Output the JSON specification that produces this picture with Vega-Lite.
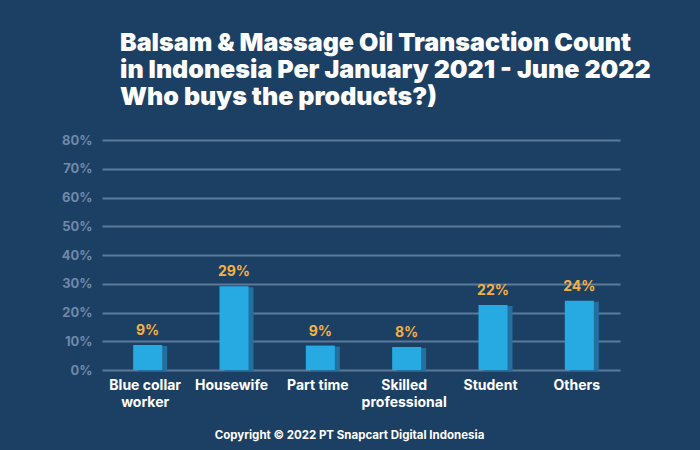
{
  "$schema": "https://vega.github.io/schema/vega-lite/v6.json",
  "width": 518,
  "height": 230,
  "autosize": {"type": "none"},
  "padding": {"left": 102, "top": 140, "right": 80, "bottom": 80},
  "background": "#1c4064",
  "config": {"view": {"stroke": null}, "font": "Inter"},
  "title": {
    "text": ["Balsam & Massage Oil Transaction Count", "in Indonesia Per January 2021 - June 2022", "Who buys the products?)"],
    "anchor": "start",
    "frame": "group",
    "dx": 18,
    "offset": 24,
    "fontSize": 25,
    "lineHeight": 27,
    "fontWeight": 900,
    "color": "#ffffff",
    "font": "Inter"
  },
  "data": {
    "values": [
      {"occupation": "Blue collar worker", "share": 8.7, "label": "9%"},
      {"occupation": "Housewife", "share": 29.1, "label": "29%"},
      {"occupation": "Part time", "share": 8.5, "label": "9%"},
      {"occupation": "Skilled professional", "share": 8.0, "label": "8%"},
      {"occupation": "Student", "share": 22.6, "label": "22%"},
      {"occupation": "Others", "share": 24.1, "label": "24%"}
    ]
  },
  "encoding": {
    "x": {
      "field": "occupation",
      "type": "nominal",
      "sort": null,
      "axis": {
        "title": "Copyright © 2022 PT Snapcart Digital Indonesia",
        "titleX": 247,
        "titleY": 65,
        "titleBaseline": "middle",
        "titleFontSize": 11.5,
        "titleFontWeight": "bold",
        "titleColor": "#ffffff",
        "titleFont": "Inter",
        "labelAngle": 0,
        "labelColor": "#ffffff",
        "labelFontSize": 14,
        "labelFontWeight": "bold",
        "labelFont": "Inter",
        "labelPadding": 8,
        "labelLineHeight": 17,
        "labelExpr": "datum.value == 'Blue collar worker' ? ['Blue collar', 'worker'] : datum.value == 'Skilled professional' ? ['Skilled', 'professional'] : datum.value",
        "domain": false,
        "ticks": false
      }
    },
    "y": {
      "field": "share",
      "type": "quantitative",
      "scale": {"domain": [0, 80]},
      "axis": {
        "title": null,
        "values": [0, 10, 20, 30, 40, 50, 60, 70, 80],
        "labelExpr": "datum.value + '%'",
        "labelColor": "#6f89a8",
        "labelFontSize": 13,
        "labelFontWeight": "bold",
        "labelFont": "Inter",
        "labelPadding": 10,
        "domain": false,
        "ticks": false,
        "gridColor": "#5b7a9a",
        "gridWidth": 2
      }
    }
  },
  "layer": [
    {"mark": {"type": "bar", "width": 29, "xOffset": 7.5, "yOffset": 1, "color": "#256f9f"}},
    {"mark": {"type": "bar", "width": 29, "xOffset": 2.5, "color": "#27a9e1"}},
    {
      "mark": {"type": "text", "baseline": "bottom", "dy": -7, "xOffset": 2.5, "color": "#f5b043", "fontSize": 14, "fontWeight": "bold", "font": "Inter"},
      "encoding": {"text": {"field": "label"}}
    }
  ]
}
